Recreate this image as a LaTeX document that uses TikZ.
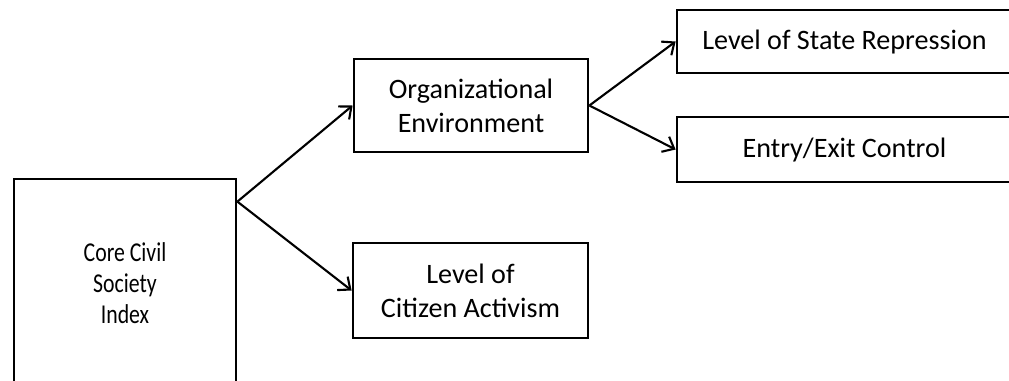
\documentclass[tikz,border=0pt]{standalone}
\usepackage{fontspec}
\setmainfont{Carlito}
\newfontfamily\corefont[FakeStretch=0.8]{Carlito}
\usetikzlibrary{arrows.meta}

\tikzset{box/.style={draw,line width=1.6pt,rectangle,align=center,inner sep=0pt,
  font=\fontsize{16}{19.4}\selectfont},
index box/.style={box,font=\corefont\fontsize{15.5}{17.6}\selectfont},
link/.style={line width=1.2pt,-{Straight Barb[length=0.2cm,width=0.34cm,line width=1.2pt]}}}

\begin{document}
\begin{tikzpicture}[x=0.02cm,y=-0.02cm]
\useasboundingbox (0,0) rectangle (1009,380);

%% Boxes
\node [index box,minimum width=4.44cm,minimum height=4.16cm] (core) at (125,283) {Core Civil\\Society\\Index};
\node [box,minimum width=4.68cm,minimum height=1.86cm] (org) at (471,105.5) {Organizational\\Environment};
\node [box,minimum width=4.70cm,minimum height=1.90cm] (act) at (470.5,290.5) {Level of\\Citizen Activism};
\node [box,minimum width=6.70cm,minimum height=1.26cm] (rep) at (844.5,41.5) {Level of State Repression};
\node [box,minimum width=6.70cm,minimum height=1.30cm] (ctl) at (844.5,149.5) {Entry/Exit Control};

%% Fork point on the index box
\coordinate (fork) at ([yshift=-0.48cm]core.north east);

%% Arrows
\draw [link] (fork) -- (org.west);
\draw [link] (fork) -- (act.west);
\draw [link] (org.east) -- (rep.west);
\draw [link] (org.east) -- (ctl.west);

\end{tikzpicture}
\end{document}
